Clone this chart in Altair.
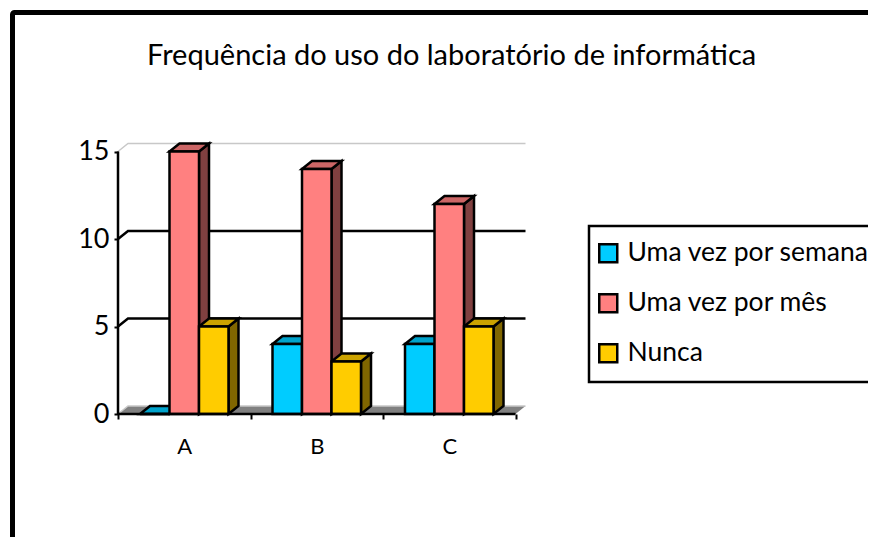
import altair as alt
import pandas as pd

TITLE = "Frequência do uso do laboratório de informática"
categories = ["A", "B", "C"]
series = ["Uma vez por semana", "Uma vez por mês", "Nunca"]
semana = [0, 4, 4]
mes = [15, 14, 12]
nunca = [5, 3, 5]
values = [semana, mes, nunca]
front_colors = ["#00CCFF", "#FF8080", "#FFCC00"]
top_colors = ["#00A3CC", "#CC6666", "#CCA300"]
side_colors = ["#006680", "#804040", "#806600"]
y_ticks = [0, 5, 10, 15]

FONT = "Lato"
W, H = 407, 271
PX_X = 132.5
PX_Y = 17.5
DX = 10 / PX_X      # depth of the 3D box, in x units
DY = 8 / PX_Y       # depth of the 3D box, in y units
GAP = 22 / PX_X
BAR = (1 - 2 * GAP) / 3
N = len(categories)
EDGE = 2.5

front, side, top = [], [], []
for s, name in enumerate(series):
    for c in range(N):
        v = values[s][c]
        l = c + GAP + s * BAR
        r = l + BAR
        key = f"{s}-{c}"
        front.append(dict(series=name, l=l, r=r, v=v, base=0))
        side += [dict(series=name, key=key, x=r, lo=0, hi=v),
                 dict(series=name, key=key, x=r + DX, lo=DY, hi=v + DY)]
        top += [dict(series=name, key=key, x=l, lo=v, hi=v),
                dict(series=name, key=key, x=l + DX, lo=v, hi=v + DY),
                dict(series=name, key=key, x=r, lo=v, hi=v + DY),
                dict(series=name, key=key, x=r + DX, lo=v + DY, hi=v + DY)]
front, side, top = map(pd.DataFrame, (front, side, top))

floor = pd.DataFrame(dict(x=[0, DX, N, N + DX], lo=[0, 0, 0, DY], hi=[0, DY, DY, DY]))

grid = []
for t in y_ticks:
    grid += [dict(t=t, x=0, y=t), dict(t=t, x=DX, y=t + DY), dict(t=t, x=N + DX, y=t + DY)]
grid = pd.DataFrame(grid)

x_scale = alt.Scale(domain=[0, W / PX_X], zero=False, nice=False)
y_scale = alt.Scale(domain=[0, H / PX_Y], zero=False, nice=False)

x_axis_vals = [i / 2 for i in range(2 * N + 1)]
label_expr = "datum.value % 1 == 0 ? '' : ['A','B','C'][floor(datum.value)]"
x_axis = alt.Axis(
    values=x_axis_vals, labelExpr=label_expr, grid=False, domain=False, title=None, zindex=1,
    tickColor="black", tickWidth=2, tickSize=5,
    tickOpacity={"condition": {"test": "datum.value % 1 == 0", "value": 1}, "value": 0},
    labelFont=FONT, labelFontSize=22, labelColor="black", labelPadding=17, labelFlush=False)
y_axis = alt.Axis(
    values=y_ticks, grid=False, domain=False, title=None, zindex=1,
    tickColor="black", tickWidth=2, tickSize=4,
    labelFont=FONT, labelFontSize=27, labelColor="black", labelPadding=5)


def X(field):
    return alt.X(field, type="quantitative", scale=x_scale, axis=x_axis, title=None)


def Y(field):
    return alt.Y(field, type="quantitative", scale=y_scale, axis=y_axis, title=None, stack=None)


def face(df, colors):
    return alt.Chart(df).mark_area(orient="vertical", stroke="black", strokeWidth=EDGE, opacity=1).encode(
        x=X("x"), y=Y("lo"), y2="hi", detail="key:N",
        color=alt.Color("series:N", scale=alt.Scale(domain=series, range=colors), legend=None),
    )


floor_layer = alt.Chart(floor).mark_area(orient="vertical", color="#808080").encode(
    x=X("x"), y=Y("lo"), y2="hi")

grid_soft = alt.Chart(grid[grid.t.isin([y_ticks[0], y_ticks[-1]])]).mark_line(color="#C8C8C8", strokeWidth=1.5).encode(
    x=X("x"), y=Y("y"), detail="t:N", order="x:Q")
grid_hard = alt.Chart(grid[~grid.t.isin([y_ticks[0], y_ticks[-1]])]).mark_line(color="black", strokeWidth=2.5).encode(
    x=X("x"), y=Y("y"), detail="t:N", order="x:Q")

front_layer = alt.Chart(front).mark_rect(stroke="black", strokeWidth=EDGE, opacity=1).encode(
    x=X("l"), x2="r:Q", y=Y("base"), y2="v:Q",
    color=alt.Color("series:N", scale=alt.Scale(domain=series, range=front_colors), title=None,
                    legend=alt.Legend(orient="none", legendX=471, legendY=83, title=None,
                                      symbolType="square", symbolSize=324, symbolStrokeColor="black",
                                      symbolStrokeWidth=2.5, symbolOpacity=1, symbolOffset=-8,
                                      labelFont=FONT, labelFontSize=26.5, labelColor="black",
                                      labelLimit=400, rowPadding=21, labelOffset=6, padding=14,
                                      strokeColor="black", fillColor="white")),
)

y_line = alt.Chart(pd.DataFrame(dict(x=[0, 0], y=[0, y_ticks[-1]]))).mark_line(color="black", strokeWidth=2.5).encode(
    x=X("x"), y=Y("y"))
x_line = alt.Chart(pd.DataFrame(dict(x=[0, N], y=[0, 0]))).mark_line(color="black", strokeWidth=2.5).encode(
    x=X("x"), y=Y("y"))

frame = alt.Chart(pd.DataFrame(dict(a=[0]))).mark_rect(
    fillOpacity=0, stroke="black", strokeWidth=5, cornerRadius=2).encode(
    x=alt.value(-105.5), x2=alt.value(800), y=alt.value(-130.5), y2=alt.value(500))

chart = alt.layer(
    frame, floor_layer, grid_soft, grid_hard,
    face(side, side_colors), face(top, top_colors), front_layer, y_line, x_line,
).resolve_scale(color="independent").properties(
    width=W, height=H,
    autosize=alt.AutoSizeParams(type="none"),
    padding={"left": 110, "top": 135, "right": 343, "bottom": 123},
    title=alt.TitleParams(TITLE, anchor="start", frame="group", dx=29, offset=0, dy=61, font=FONT, fontSize=29,
                          fontWeight="normal", color="black"),
).configure_view(stroke=None).configure_legend(strokeWidth=2.5)

chart.save("out.html", embed_options={"renderer": "svg", "actions": False})
